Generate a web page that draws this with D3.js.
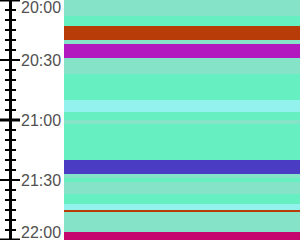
<!DOCTYPE html>
<html>
<head>
<meta charset="utf-8">
<script src="https://cdn.jsdelivr.net/npm/d3@7"></script>
<style>
  html, body { margin: 0; padding: 0; background: #fff; }
  svg { display: block; }
  .tick-label { font-family: "Liberation Sans", Arial, sans-serif; font-size: 16px; fill: #505050; }
</style>
</head>
<body>
<div id="chart"></div>
<script>
// segments of the timeline: start time, end time, category
const segmentStart = ['20:00', '20:08', '20:13', '20:20', '20:22', '20:29', '20:37', '20:50', '20:56', '21:00',
    '21:02', '21:20', '21:27', '21:29', '21:31', '21:37', '21:42', '21:45', '21:46', '21:56'];
const segmentEnd = ['20:08', '20:13', '20:20', '20:22', '20:29', '20:37', '20:50', '20:56', '21:00', '21:02',
    '21:20', '21:27', '21:29', '21:31', '21:37', '21:42', '21:45', '21:46', '21:56', '22:00'];
const segmentCategory = ['light', 'mint', 'rust', 'light', 'violet', 'light', 'mint', 'cyan', 'mint', 'light',
    'mint', 'indigo', 'light', 'mint', 'light', 'mint', 'cyan', 'rust', 'light', 'crimson'];
const categories = ['light', 'mint', 'cyan', 'rust', 'violet', 'indigo', 'crimson'];
const timeRange = ['20:00', '22:00'];
const labelStep = 30;   // minutes
const tickStep = 5;     // minutes

const palette = ['#85e3c8', '#66efc0', '#94f2ee', '#b83c08', '#b21ac0', '#4b3cc4', '#c4086e'];

const totalWidth = 300;
const totalHeight = 240;
const bandLeft = 64;

const parse = d3.timeParse('%H:%M');
const svg = d3.select('#chart').append('svg')
    .attr('width', totalWidth)
    .attr('height', totalHeight);

const scaleY = d3.scaleTime()
    .domain(timeRange.map(parse))
    .range([0, totalHeight]);
const color = d3.scaleOrdinal()
    .domain(categories)
    .range(palette);

const segments = segmentStart.map((s, i) => ({
    start: parse(s),
    end: parse(segmentEnd[i]),
    category: segmentCategory[i]
}));

svg.append('g')
    .selectAll('rect')
    .data(segments)
    .enter()
    .append('rect')
    .attr('x', bandLeft)
    .attr('width', totalWidth - bandLeft)
    .attr('y', d => scaleY(d.start))
    .attr('height', d => scaleY(d.end) - scaleY(d.start))
    .attr('fill', d => color(d.category));

// axis: spine plus ticks that cross it
const axis = svg.append('g').attr('class', 'axis');
axis.append('line')
    .attr('x1', 10.5).attr('x2', 10.5)
    .attr('y1', 0).attr('y2', totalHeight)
    .attr('stroke', '#000')
    .attr('stroke-width', 3);

const ticks = scaleY.ticks(d3.timeMinute.every(tickStep));
axis.selectAll('.tick')
    .data(ticks)
    .enter()
    .append('line')
    .attr('class', 'tick')
    .attr('x1', d => d.getMinutes() % labelStep === 0 ? 0 : 5)
    .attr('x2', d => d.getMinutes() % labelStep === 0 ? 20 : 16)
    .attr('y1', d => Math.round(scaleY(d)))
    .attr('y2', d => Math.round(scaleY(d)))
    .attr('stroke', '#000')
    .attr('stroke-width', d => d.getMinutes() === 0 ? 3 : 2);

const fmt = d3.timeFormat('%H:%M');
axis.selectAll('.tick-label')
    .data(scaleY.ticks(d3.timeMinute.every(labelStep)))
    .enter()
    .append('text')
    .attr('class', 'tick-label')
    .attr('x', 21)
    .attr('y', d => Math.max(7.5, Math.min(totalHeight - 8, scaleY(d))))
    .attr('dy', '0.35em')
    .text(d => fmt(d));
</script>
</body>
</html>
